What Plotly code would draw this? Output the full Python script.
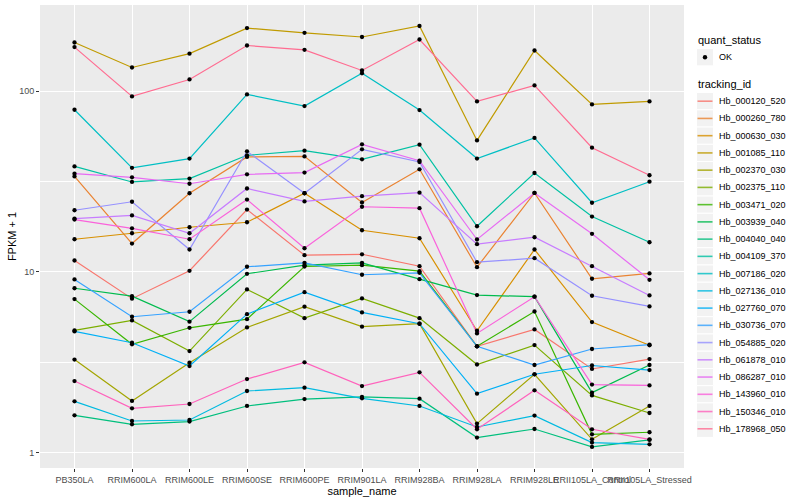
import plotly.graph_objects as go

# ---------------- data (FPKM + 1) ----------------
samples = ["PB350LA", "RRIM600LA", "RRIM600LE", "RRIM600SE", "RRIM600PE",
           "RRIM901LA", "RRIM928BA", "RRIM928LA", "RRIM928LE",
           "RRII105LA_Control", "RRII105LA_Stressed"]

tracking_ids = ["Hb_000120_520", "Hb_000260_780", "Hb_000630_030", "Hb_001085_110",
                "Hb_002370_030", "Hb_002375_110", "Hb_003471_020", "Hb_003939_040",
                "Hb_004040_040", "Hb_004109_370", "Hb_007186_020", "Hb_027136_010",
                "Hb_027760_070", "Hb_030736_070", "Hb_054885_020", "Hb_061878_010",
                "Hb_086287_010", "Hb_143960_010", "Hb_150346_010", "Hb_178968_050"]

hb_000120_520 = [11.55, 7.10, 10.13, 22.1, 12.35, 12.5, 10.74, 3.87, 4.80, 2.90, 3.29]
hb_000260_780 = [33.7, 14.33, 27.2, 43.2, 43.5, 24.2, 36.9, 10.6, 27.3, 9.15, 9.79]
hb_000630_030 = [15.14, 16.34, 17.64, 18.8, 27.2, 16.98, 15.33, 4.72, 13.28, 5.27, 3.92]
hb_001085_110 = [185.6, 135.0, 161.0, 223.0, 210.0, 199.0, 229.0, 53.3, 167.6, 84.3, 87.6]
hb_002370_030 = [3.27, 1.93, 3.14, 4.92, 6.41, 4.97, 5.16, 1.446, 2.71, 1.184, 1.81]
hb_002375_110 = [4.74, 5.38, 3.64, 7.99, 5.54, 7.12, 5.54, 3.07, 3.93, 2.07, 1.655]
hb_003471_020 = [7.06, 3.97, 4.90, 5.47, 10.7, 10.88, 10.08, 3.87, 6.03, 1.262, 1.295]
hb_003939_040 = [8.11, 7.33, 5.30, 9.75, 10.88, 11.21, 9.10, 7.43, 7.28, 2.145, 3.05]
hb_004040_040 = [1.607, 1.433, 1.483, 1.81, 1.977, 2.03, 1.987, 1.21, 1.35, 1.074, 1.174]
hb_004109_370 = [38.3, 31.4, 32.8, 44.1, 46.8, 41.9, 50.5, 17.86, 35.2, 20.2, 14.57]
hb_007186_020 = [78.8, 37.6, 42.3, 95.8, 82.6, 125.4, 78.5, 42.3, 55.0, 24.1, 31.5]
hb_027136_010 = [1.92, 1.495, 1.514, 2.19, 2.286, 1.995, 1.81, 1.385, 1.601, 1.136, 1.111]
hb_027760_070 = [4.68, 4.05, 3.01, 5.83, 7.71, 5.96, 5.16, 2.118, 2.71, 3.03, 2.86]
hb_030736_070 = [9.07, 5.64, 6.01, 10.66, 11.21, 9.63, 9.87, 3.87, 3.05, 3.74, 3.95]
hb_054885_020 = [21.9, 24.4, 13.28, 46.4, 27.2, 47.6, 40.5, 11.3, 11.89, 7.37, 6.43]
hb_061878_010 = [19.7, 20.5, 16.34, 28.9, 24.5, 26.2, 27.4, 14.21, 15.53, 10.74, 7.40]
hb_086287_010 = [34.9, 33.3, 30.7, 34.6, 35.4, 50.7, 41.2, 15.09, 27.3, 16.22, 9.03]
hb_143960_010 = [19.45, 17.4, 15.14, 25.1, 13.5, 22.9, 22.5, 4.56, 7.28, 2.376, 2.35]
hb_150346_010 = [2.486, 1.757, 1.856, 2.55, 3.155, 2.333, 2.777, 1.345, 2.21, 1.345, 1.184]
hb_178968_050 = [175.0, 93.4, 115.9, 178.6, 169.0, 130.0, 192.8, 87.6, 107.4, 48.6, 34.2]

series_values = [hb_000120_520, hb_000260_780, hb_000630_030, hb_001085_110,
                 hb_002370_030, hb_002375_110, hb_003471_020, hb_003939_040,
                 hb_004040_040, hb_004109_370, hb_007186_020, hb_027136_010,
                 hb_027760_070, hb_030736_070, hb_054885_020, hb_061878_010,
                 hb_086287_010, hb_143960_010, hb_150346_010, hb_178968_050]

quant_status = "OK"

# ---------------- styles ----------------
palette = ["#F8766D", "#EA8331", "#D89000", "#C09B00", "#A3A500", "#7CAE00",
           "#39B600", "#00BB4E", "#00BF7D", "#00C1A3", "#00BFC4", "#00BAE0",
           "#00B0F6", "#35A2FF", "#9590FF", "#C77CFF", "#E76BF3", "#FA62DB",
           "#FF62BC", "#FF6C91"]

FONT = "Liberation Sans, Arial, sans-serif"
W, H = 800, 500
ML, MR, MT, MB = 40, 116, 5, 31.5
PW, PH = W - ML - MR, H - MT - MB


def px(xp):
    return (xp - ML) / PW


def py(yp):
    return (H - MB - yp) / PH


fig = go.Figure()

for i, (tid, vals) in enumerate(zip(tracking_ids, series_values)):
    fig.add_trace(go.Scatter(
        x=samples, y=vals, mode="lines", name=tid,
        line=dict(color=palette[i], width=1.2),
        showlegend=False, hoverinfo="x+y+name",
    ))

# points (all black, shape by quant_status)
all_x = [s for _ in series_values for s in samples]
all_y = [v for vals in series_values for v in vals]
fig.add_trace(go.Scatter(
    x=all_x, y=all_y, mode="markers", name=quant_status,
    marker=dict(color="black", size=4.3, symbol="circle"),
    showlegend=False,
))

# ---------------- legend (ggplot style, drawn in paper space) ----------------
shapes = []
annotations = []
KEY_X0, KEY_X1 = 696.5, 713.5
TEXT_X = 716.5
KEY_H = 17.26

annotations.append(dict(x=px(696), y=py(40), xref="paper", yref="paper",
                        text="quant_status", showarrow=False, xanchor="left",
                        yanchor="middle", font=dict(size=11, color="black")))
ok_y = 57.3
shapes.append(dict(type="rect", xref="paper", yref="paper",
                   x0=px(KEY_X0), x1=px(KEY_X1), y0=py(ok_y - KEY_H / 2), y1=py(ok_y + KEY_H / 2),
                   fillcolor="#F2F2F2", line=dict(color="white", width=1), layer="above"))
shapes.append(dict(type="circle", xref="paper", yref="paper",
                   x0=px(705 - 2.2), x1=px(705 + 2.2), y0=py(ok_y - 2.2), y1=py(ok_y + 2.2),
                   fillcolor="black", line=dict(color="black", width=0), layer="above"))
annotations.append(dict(x=px(TEXT_X), y=py(ok_y), xref="paper", yref="paper",
                        text=quant_status, showarrow=False, xanchor="left",
                        yanchor="middle", font=dict(size=9, color="black")))

annotations.append(dict(x=px(696), y=py(84), xref="paper", yref="paper",
                        text="tracking_id", showarrow=False, xanchor="left",
                        yanchor="middle", font=dict(size=11, color="black")))
first_y = 101.3
for i, tid in enumerate(tracking_ids):
    yc = first_y + i * KEY_H
    shapes.append(dict(type="rect", xref="paper", yref="paper",
                       x0=px(KEY_X0), x1=px(KEY_X1), y0=py(yc - KEY_H / 2), y1=py(yc + KEY_H / 2),
                       fillcolor="#F2F2F2", line=dict(color="white", width=1), layer="above"))
    shapes.append(dict(type="line", xref="paper", yref="paper",
                       x0=px(KEY_X0 + 1), x1=px(KEY_X1 - 1), y0=py(yc), y1=py(yc),
                       line=dict(color=palette[i], width=1.6), opacity=0.8, layer="above"))
    annotations.append(dict(x=px(TEXT_X), y=py(yc), xref="paper", yref="paper",
                            text=tid, showarrow=False, xanchor="left",
                            yanchor="middle", font=dict(size=9, color="black")))

fig.update_layout(
    width=W, height=H,
    margin=dict(l=ML, r=MR, t=MT, b=MB),
    plot_bgcolor="#EBEBEB", paper_bgcolor="white",
    font=dict(family=FONT, size=9, color="#4D4D4D"),
    showlegend=False,
    shapes=shapes, annotations=annotations,
)

fig.update_xaxes(
    type="category", categoryorder="array", categoryarray=samples,
    range=[-0.6, len(samples) - 0.4],
    showgrid=True, gridcolor="white", gridwidth=1.1,
    ticks="outside", ticklen=3, tickcolor="#333333", tickwidth=1,
    tickangle=0, zeroline=False, showline=False, automargin=False,
    tickfont=dict(size=9, color="#4D4D4D"),
    title=dict(text="sample_name", font=dict(size=11, color="black"), standoff=1),
)

fig.update_yaxes(
    type="log", range=[-0.0855, 2.476],
    tickvals=[1, 10, 100], ticktext=["1", "10", "100"],
    showgrid=True, gridcolor="white", gridwidth=1.1,
    minor=dict(tickvals=[10 ** 0.5, 10 ** 1.5], showgrid=True,
               gridcolor="white", gridwidth=0.55, ticks=""),
    ticks="outside", ticklen=3, tickcolor="#333333", tickwidth=1,
    zeroline=False, showline=False, automargin=False,
    tickfont=dict(size=9, color="#4D4D4D"),
    title=dict(text="FPKM + 1", font=dict(size=11, color="black"), standoff=0),
)

fig.write_html("out.html", config={"displayModeBar": False},
               post_script="document.body.style.margin='0px';")
